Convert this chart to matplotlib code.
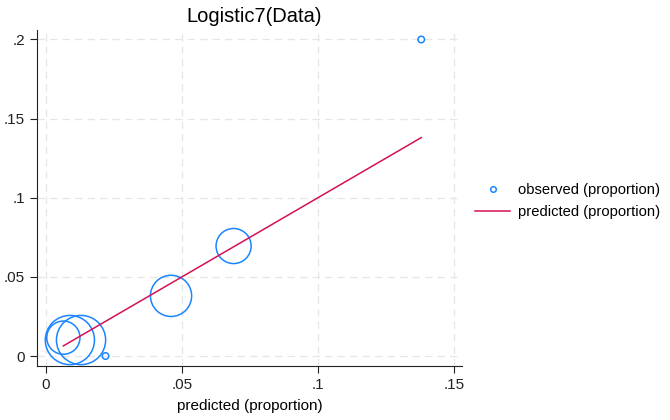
import numpy as np
import matplotlib
matplotlib.use('Agg')
from matplotlib import pyplot as plt

plt.rcParams['font.family'] = ['Liberation Sans', 'DejaVu Sans']

# calibration bins: predicted vs observed proportion, marker weight = bin size
pred = [0.0064, 0.0088, 0.0129, 0.0219, 0.0460, 0.0690, 0.1380]
obs = [0.0116, 0.0101, 0.0101, 0.0000, 0.0380, 0.0695, 0.2000]
weight = [26, 57, 57, 1, 40, 29, 1]

xticks = [0, 0.05, 0.1, 0.15]
xticklabels = ['0', '.05', '.1', '.15']
yticks = [0, 0.05, 0.1, 0.15, 0.2]
yticklabels = ['0', '.05', '.1', '.15', '.2']

blue = '#1A85FF'
red = '#D41159'

fig = plt.figure(figsize=(6.7, 4.2), dpi=100)
ax = fig.add_axes([0.0552, 0.1286, 0.6344, 0.80])

sizes = np.maximum(np.array(weight) * 22.0, 22.0)
ax.scatter(pred, obs, s=sizes, facecolors='none', edgecolors=blue,
           linewidths=1.1, zorder=3)
ax.plot([pred[0], pred[-1]], [pred[0], pred[-1]], color=red, lw=1.1, zorder=4)

ax.set_xlim(-0.0033, 0.153)
ax.set_ylim(-0.0063, 0.206)
ax.set_xticks(xticks)
ax.set_xticklabels(xticklabels)
ax.set_yticks(yticks)
ax.set_yticklabels(yticklabels)
ax.tick_params(direction='out', length=5, width=0.8, labelsize=11, colors='#222222')
ax.grid(True, color='#e6e6e6', linestyle=(0, (6, 4)), linewidth=0.9)
ax.set_axisbelow(True)
for s in ['top', 'right']:
    ax.spines[s].set_visible(False)
for s in ['left', 'bottom']:
    ax.spines[s].set_linewidth(0.8)
    ax.spines[s].set_color('#222222')

ax.set_xlabel('predicted (proportion)', fontsize=11, labelpad=5)
ax.set_title('Logistic7(Data)', fontsize=14.5, pad=6, x=0.51)

h1 = plt.Line2D([], [], marker='o', linestyle='none', markerfacecolor='none',
                markeredgecolor=blue, markersize=4, markeredgewidth=1.1)
h2 = plt.Line2D([], [], color=red, lw=1.1)
fig.legend([h1, h2], ['observed (proportion)', 'predicted (proportion)'],
           loc='center left', bbox_to_anchor=(0.689, 0.522), frameon=False,
           fontsize=10.6, handlelength=2.4, labelspacing=0.55, handletextpad=0.55)

fig.savefig('out.png', dpi=100)
